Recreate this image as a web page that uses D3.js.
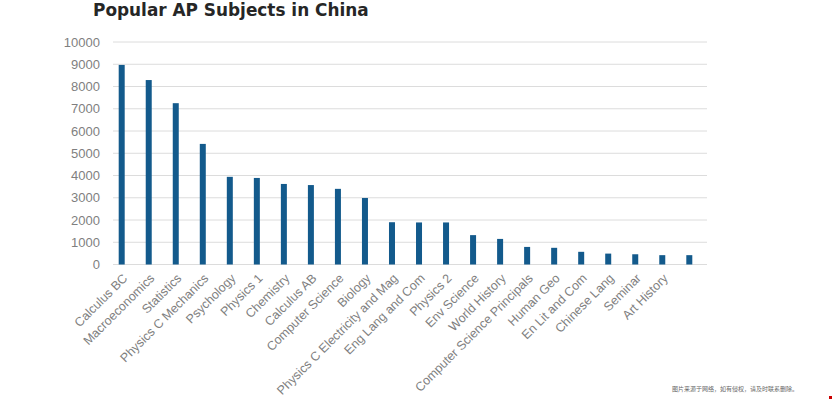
<!DOCTYPE html>
<html><head><meta charset="utf-8">
<script src="https://cdn.jsdelivr.net/npm/d3@7"></script>
<style>body{margin:0;background:#fff}svg{display:block}</style>
</head><body>
<svg id="c" width="832" height="399"></svg>
<script>
const title = "Popular AP Subjects in China";
const categories = ["Calculus BC","Macroeconomics","Statistics","Physics C Mechanics","Psychology","Physics 1","Chemistry","Calculus AB","Computer Science","Biology","Physics C Electricity and Mag","Eng Lang and Com","Physics 2","Env Science","World History","Computer Science Principals","Human Geo","En Lit and Com","Chinese Lang","Seminar","Art History",""];
const values = [8970,8290,7250,5420,3940,3890,3620,3570,3400,2990,1900,1890,1890,1320,1150,790,750,570,490,460,420,420];
const yTicks = [0,1000,2000,3000,4000,5000,6000,7000,8000,9000,10000];
const note = "图片来源于网络，如有侵权，请及时联系删除。";

const svg = d3.select("#c");
const x = d3.scalePoint().domain(d3.range(categories.length)).range([121.7, 689.3]);
const y = d3.scaleLinear().domain([0, 10000]).range([264.5, 42]);

// gridlines
svg.append("g").selectAll("line").data(yTicks).join("line")
  .attr("x1", 113).attr("x2", 707)
  .attr("y1", d => y(d)).attr("y2", d => y(d))
  .attr("stroke", "#dcdcdc").attr("stroke-width", 1);

// y axis
const ya = svg.append("g").attr("transform", "translate(113,0)")
  .call(d3.axisLeft(y).tickValues(yTicks).tickSize(0).tickPadding(13).tickFormat(d3.format("d")));
ya.select(".domain").remove();
ya.selectAll("text").attr("fill", "#7f7f7f").style("font-family", "'Liberation Sans', Arial, sans-serif").style("font-size", "13px");

// bars
svg.append("g").selectAll("rect").data(values).join("rect")
  .attr("x", (d, i) => x(i) - 3).attr("width", 6)
  .attr("y", d => y(d)).attr("height", d => y(0) - y(d))
  .attr("fill", "#135a8c");

// x axis
const xa = svg.append("g").attr("transform", "translate(0,270)")
  .call(d3.axisBottom(x).tickSize(0).tickFormat(i => categories[i]));
xa.select(".domain").remove();
xa.selectAll("text")
  .attr("fill", "#7f7f7f").style("font-family", "'Liberation Sans', Arial, sans-serif").style("font-size", "12.5px")
  .attr("text-anchor", "end").attr("y", 0).attr("dy", 0)
  .attr("transform", "translate(6,9) rotate(-45)");

// title
svg.append("text").attr("x", 93).attr("y", 16).text(title)
  .attr("fill", "#262626").style("font-family", "'DejaVu Sans', Verdana, sans-serif")
  .style("font-weight", "bold").style("font-size", "16.9px");

// note
svg.append("text").attr("x", 672).attr("y", 391).text(note)
  .attr("fill", "#666").style("font-family", "'Noto Sans CJK SC', sans-serif").style("font-size", "6px");
svg.append("rect").attr("x", 829).attr("y", 396).attr("width", 3).attr("height", 3).attr("fill", "#c00");
</script>
</body></html>
